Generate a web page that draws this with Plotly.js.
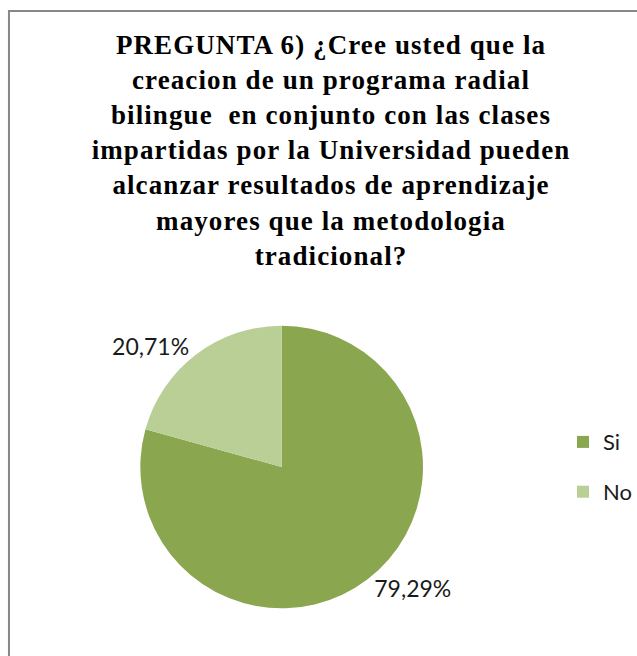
<!DOCTYPE html>
<html>
<head>
<meta charset="utf-8">
<script src="https://cdn.plot.ly/plotly-3.0.1.min.js"></script>
<style>html,body{margin:0;padding:0;background:#fff;}#chart{width:637px;height:656px;}</style>
</head>
<body>
<div id="chart"></div>
<script>
const categories = ["Si", "No"];
const values = [79.29, 20.71];
const sliceColors = ["#8aa64f", "#bacf96"];
const titleLines = [
  "PREGUNTA 6) ¿Cree usted que la",
  "creacion de un programa radial",
  "bilingue  en conjunto con las clases",
  "impartidas por la Universidad pueden",
  "alcanzar resultados de aprendizaje",
  "mayores que la metodologia",
  "tradicional?"
];

const W = 637, H = 656;
const cx = 283, cy = 467, r = 142;

const legendLabels = categories.map(c => '<span style="font-size:22px;baseline-shift:6px">' + c + '</span>');
const titleText = titleLines.map(l => '<span style="letter-spacing:1.1px">' + l + '</span>').join("<br>");

const trace = {
  type: "pie",
  labels: legendLabels,
  values: values,
  sort: false,
  direction: "clockwise",
  rotation: 0,
  marker: {colors: sliceColors, line: {width: 0}},
  textposition: "outside",
  texttemplate: "%{percent:.2%}",
  textfont: {family: "Lato, Open Sans, sans-serif", size: 23, color: "#1a1a1a"},
  hoverinfo: "none",
  domain: {x: [(cx - r) / W, (cx + r) / W], y: [1 - (cy + r) / H, 1 - (cy - r) / H]},
  automargin: false
};

const layout = {
  width: W, height: H,
  margin: {l: 0, r: 0, t: 0, b: 0},
  paper_bgcolor: "#ffffff",
  separators: ",.",
  title: {
    text: titleText,
    font: {family: "Liberation Serif, Times New Roman, serif", size: 27, color: "#000", weight: "bold"},
    x: 331 / W, xanchor: "center",
    y: 1 - 54 / H, yanchor: "top", yref: "container"
  },
  showlegend: true,
  legend: {
    x: 566 / W, xanchor: "left",
    y: 1 - 467 / H, yanchor: "middle",
    font: {family: "Lato, Open Sans, sans-serif", size: 36, color: "#1a1a1a"},
    itemwidth: 30,
    bgcolor: "rgba(0,0,0,0)"
  },
  shapes: [{
    type: "rect", xref: "paper", yref: "paper",
    x0: 9 / W, x1: 1.05, y0: -0.05, y1: 1 - 11 / H,
    line: {color: "#878787", width: 2}, fillcolor: "rgba(0,0,0,0)"
  }]
};

Plotly.newPlot("chart", [trace], layout, {displayModeBar: false, staticPlot: true});
</script>
</body>
</html>
